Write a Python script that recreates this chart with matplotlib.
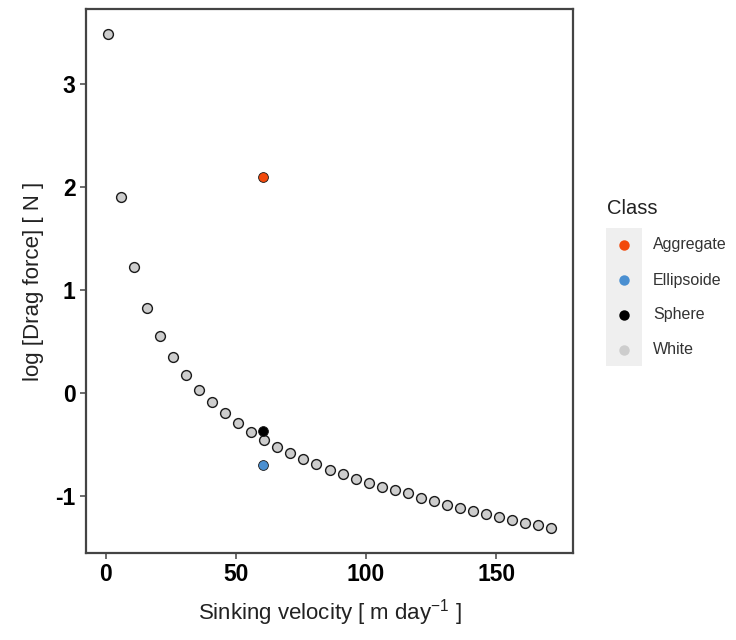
import numpy as np
import matplotlib
matplotlib.use("Agg")
import matplotlib.pyplot as plt
from matplotlib.patches import Rectangle
from matplotlib.lines import Line2D

plt.rcParams['font.family'] = ['Liberation Sans', 'DejaVu Sans']
plt.rcParams['mathtext.fontset'] = 'custom'
plt.rcParams['mathtext.rm'] = 'Liberation Sans'
plt.rcParams['mathtext.it'] = 'Liberation Sans:italic'
plt.rcParams['axes.unicode_minus'] = False

# White series: sinking velocity vs log drag force
white_x = [1, 6, 11, 16, 21, 26, 31, 36, 41, 46, 51, 56, 61, 66, 71, 76, 81, 86,
           91, 96, 101, 106, 111, 116, 121, 126, 131, 136, 141, 146, 151, 156,
           161, 166, 171]
white_y = [3.487, 1.897, 1.218, 0.825, 0.553, 0.346, 0.174, 0.029, -0.092, -0.198,
           -0.296, -0.382, -0.456, -0.525, -0.590, -0.645, -0.698, -0.748,
           -0.795, -0.838, -0.880, -0.919, -0.945, -0.975, -1.021, -1.054,
           -1.093, -1.118, -1.151, -1.183, -1.209, -1.238, -1.264, -1.289, -1.318]

# Special particles
class_names = ['Aggregate', 'Ellipsoide', 'Sphere', 'White']
class_colors = ['#F24A0C', '#4A8FD1', '#000000', '#CDCDCD']
special_x = [60.5, 60.5, 60.5]
special_y = [2.095, -0.708, -0.376]

fig = plt.figure(figsize=(7.36, 6.4), dpi=100)
ax = fig.add_axes([86/736, 1 - 553/640, (573 - 86)/736, (553 - 9)/640])

ax.scatter(white_x, white_y, s=50, c=class_colors[3], edgecolors='#1a1a1a',
           linewidths=1.0, zorder=3)
for i in range(3):
    ax.scatter(special_x[i], special_y[i], s=50, c=class_colors[i],
               edgecolors='#1a1a1a', linewidths=0.6, zorder=4)

# ggplot-like expansion
xr = max(white_x) - min(white_x)
yr = max(white_y) - min(white_y)
ax.set_xlim(min(white_x) - 0.05 * xr, max(white_x) + 0.05 * xr)
ax.set_ylim(min(white_y) - 0.05 * yr, max(white_y) + 0.05 * yr)

ax.set_xticks([0, 50, 100, 150])
ax.set_yticks([-1, 0, 1, 2, 3])
ax.tick_params(axis='both', direction='out', length=4.5, width=1.1,
               color='#444444', labelsize=16.5, labelcolor='black', pad=3)
for lab in ax.get_xticklabels() + ax.get_yticklabels():
    lab.set_fontweight('bold')
for sp in ax.spines.values():
    sp.set_linewidth(1.6)
    sp.set_color('#444444')

ax.set_xlabel('Sinking velocity [ m day$^{-1}$ ]', fontsize=16, color='#222222',
              labelpad=8)
ax.set_ylabel('log [Drag force] [ N ]', fontsize=16, color='#222222', labelpad=8)

# Legend drawn by hand (ggplot style grey key column)
fig.text(607/736, 1 - 208/640, 'Class', fontsize=14.5, color='#222222',
         ha='left', va='center')
fig.patches.append(Rectangle((606/736, 1 - 366/640), 36/736, 138/640,
                             transform=fig.transFigure, facecolor='#EFEFEF',
                             edgecolor='none', zorder=0))
key_y = [245, 280, 315, 350]
for name, col, yy in zip(class_names, class_colors, key_y):
    fig.lines.append(Line2D([624/736], [1 - yy/640], marker='o', markersize=7.5,
                            markerfacecolor=col, markeredgecolor='none',
                            linestyle='none', transform=fig.transFigure))
    fig.text(653/736, 1 - yy/640, name, fontsize=11.5, color='#333333',
             ha='left', va='center')

fig.savefig('out.png', dpi=100)
